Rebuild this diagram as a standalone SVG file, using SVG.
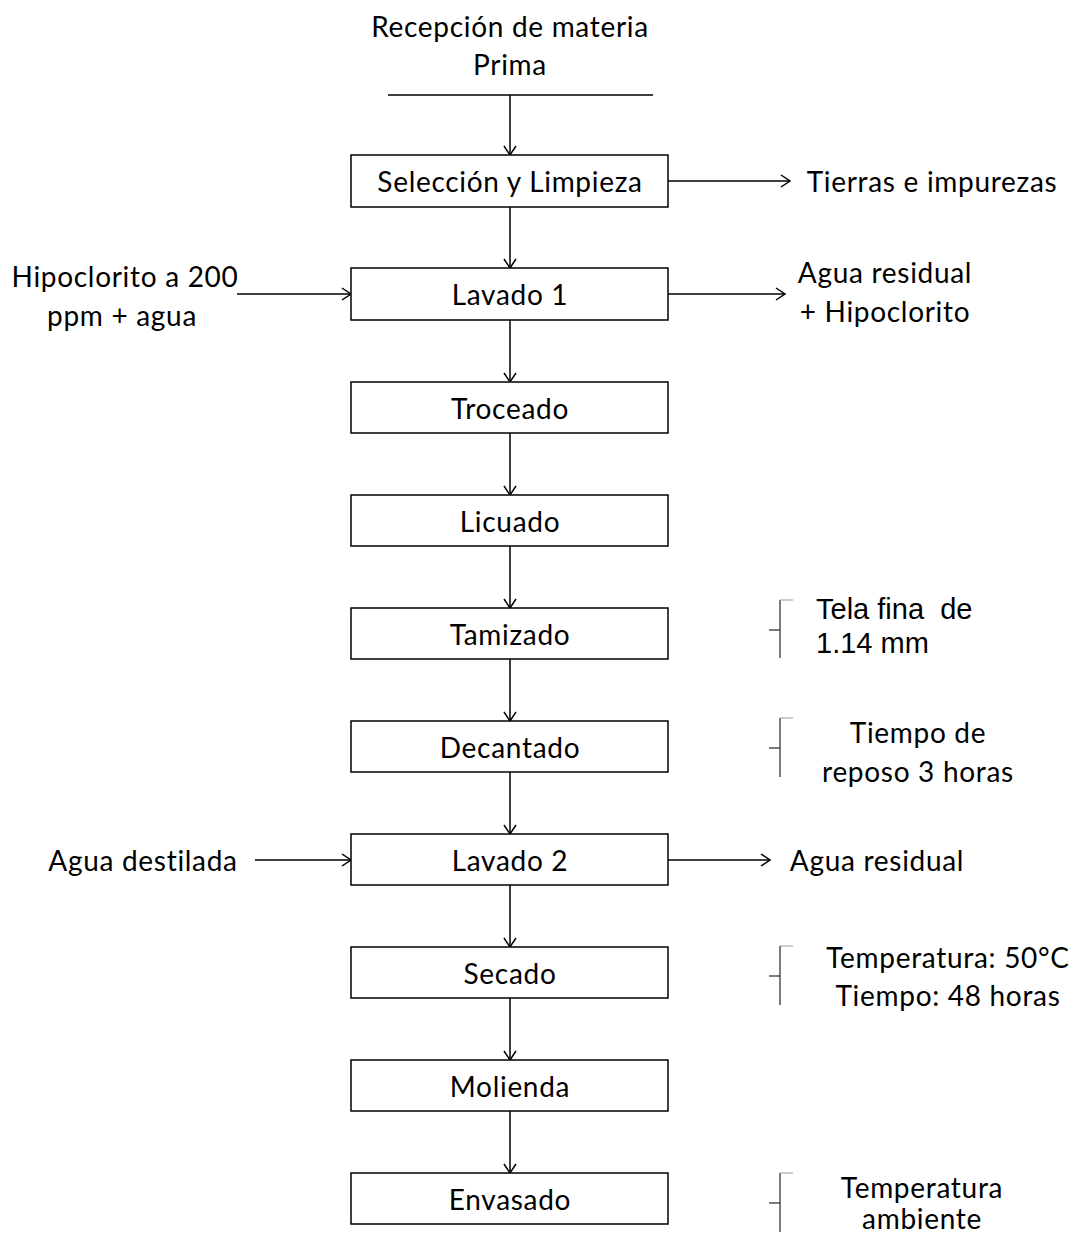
<svg xmlns="http://www.w3.org/2000/svg" width="1076" height="1236" viewBox="0 0 1076 1236">
<style>
.box{fill:#fff;stroke:#000;stroke-width:1.5}
.t{font-family:Lato,"Liberation Sans",sans-serif;font-size:28px;letter-spacing:0.7px;fill:#000;text-anchor:middle;dominant-baseline:central}
.a{font-family:"Liberation Sans",Arial,sans-serif;font-size:29px;fill:#000;white-space:pre}
.ln{stroke:#000;stroke-width:1.5;fill:none}
.br{stroke:#333;stroke-width:1.3;fill:none}
.tk{stroke:#999;stroke-width:1;fill:none}
</style>
<defs>
<marker id="arr" markerWidth="14" markerHeight="14" refX="12" refY="7" orient="auto" markerUnits="userSpaceOnUse">
<path d="M3,1 L12,7 L3,13" fill="none" stroke="#000" stroke-width="1.5"/>
</marker>
</defs>
<g id="connectors">
<line class="ln" x1="388" y1="95" x2="653" y2="95"/>
<line class="ln" x1="510" y1="95" x2="510" y2="155" marker-end="url(#arr)"/>
<line class="ln" x1="510" y1="207" x2="510" y2="268" marker-end="url(#arr)"/>
<line class="ln" x1="510" y1="320" x2="510" y2="382" marker-end="url(#arr)"/>
<line class="ln" x1="510" y1="433" x2="510" y2="495" marker-end="url(#arr)"/>
<line class="ln" x1="510" y1="546" x2="510" y2="608" marker-end="url(#arr)"/>
<line class="ln" x1="510" y1="659" x2="510" y2="721" marker-end="url(#arr)"/>
<line class="ln" x1="510" y1="772" x2="510" y2="834" marker-end="url(#arr)"/>
<line class="ln" x1="510" y1="885" x2="510" y2="947" marker-end="url(#arr)"/>
<line class="ln" x1="510" y1="998" x2="510" y2="1060" marker-end="url(#arr)"/>
<line class="ln" x1="510" y1="1111" x2="510" y2="1173" marker-end="url(#arr)"/>
<line class="ln" x1="668" y1="181" x2="790" y2="181" marker-end="url(#arr)"/>
<line class="ln" x1="237" y1="294" x2="351" y2="294" marker-end="url(#arr)"/>
<line class="ln" x1="668" y1="294" x2="785" y2="294" marker-end="url(#arr)"/>
<line class="ln" x1="255" y1="860" x2="351" y2="860" marker-end="url(#arr)"/>
<line class="ln" x1="668" y1="860" x2="770" y2="860" marker-end="url(#arr)"/>
</g>
<g id="brackets">
<line class="br" x1="780" y1="600" x2="780" y2="658"/><line class="br" x1="769" y1="630" x2="780" y2="630"/><line class="tk" x1="780" y1="600" x2="793" y2="600"/>
<line class="br" x1="780" y1="718" x2="780" y2="777"/><line class="br" x1="769" y1="748" x2="780" y2="748"/><line class="tk" x1="780" y1="718" x2="793" y2="718"/>
<line class="br" x1="780" y1="946" x2="780" y2="1005"/><line class="br" x1="769" y1="976" x2="780" y2="976"/><line class="tk" x1="780" y1="946" x2="793" y2="946"/>
<line class="br" x1="780" y1="1173" x2="780" y2="1232"/><line class="br" x1="769" y1="1203" x2="780" y2="1203"/><line class="tk" x1="780" y1="1173" x2="793" y2="1173"/>
</g>
<g id="start"><text class="t" x="510" y="26">Recepción de materia</text><text class="t" x="510" y="64">Prima</text></g>
<g id="n1"><rect class="box" x="351" y="155" width="317" height="52"/><text class="t" x="510" y="181">Selección y Limpieza</text></g>
<g id="n2"><rect class="box" x="351" y="268" width="317" height="52"/><text class="t" x="510" y="294">Lavado 1</text></g>
<g id="n3"><rect class="box" x="351" y="382" width="317" height="51"/><text class="t" x="510" y="408">Troceado</text></g>
<g id="n4"><rect class="box" x="351" y="495" width="317" height="51"/><text class="t" x="510" y="521">Licuado</text></g>
<g id="n5"><rect class="box" x="351" y="608" width="317" height="51"/><text class="t" x="510" y="634">Tamizado</text></g>
<g id="n6"><rect class="box" x="351" y="721" width="317" height="51"/><text class="t" x="510" y="747">Decantado</text></g>
<g id="n7"><rect class="box" x="351" y="834" width="317" height="51"/><text class="t" x="510" y="860">Lavado 2</text></g>
<g id="n8"><rect class="box" x="351" y="947" width="317" height="51"/><text class="t" x="510" y="973">Secado</text></g>
<g id="n9"><rect class="box" x="351" y="1060" width="317" height="51"/><text class="t" x="510" y="1086">Molienda</text></g>
<g id="n10"><rect class="box" x="351" y="1173" width="317" height="51"/><text class="t" x="510" y="1199">Envasado</text></g>
<g id="labels">
<text class="t" x="932" y="181">Tierras e impurezas</text>
<text class="t" x="125" y="276">Hipoclorito a 200</text>
<text class="t" x="122" y="315">ppm + agua</text>
<text class="t" x="885" y="272">Agua residual</text>
<text class="t" x="885" y="311">+ Hipoclorito</text>
<text class="a" x="816" y="619" xml:space="preserve">Tela fina  de</text>
<text class="a" x="816" y="653">1.14 mm</text>
<text class="t" x="918" y="732">Tiempo de</text>
<text class="t" x="918" y="771">reposo 3 horas</text>
<text class="t" x="143" y="860">Agua destilada</text>
<text class="t" x="877" y="860">Agua residual</text>
<text class="t" x="948" y="957">Temperatura: 50°C</text>
<text class="t" x="948" y="995">Tiempo: 48 horas</text>
<text class="t" x="922" y="1187">Temperatura</text>
<text class="t" x="922" y="1229" style="dominant-baseline:alphabetic">ambiente</text>
</g>
</svg>
